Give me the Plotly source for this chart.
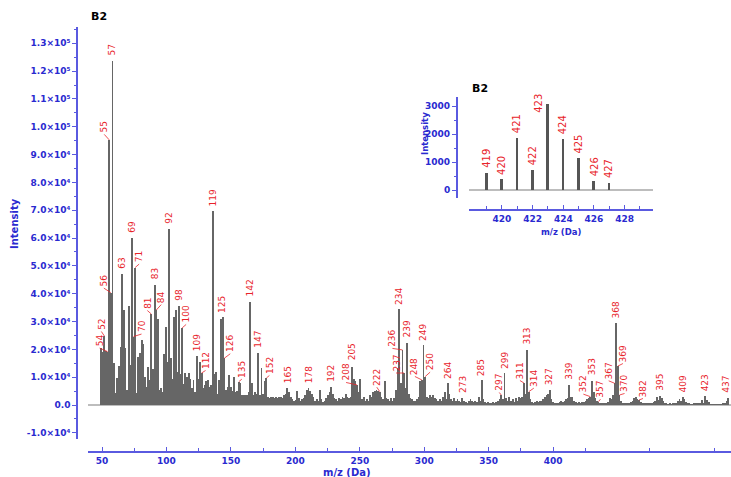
import plotly.graph_objects as go

W, H = 731, 477

# ---------------- data (m/z 50..437, one value per unit) ----------------
int_050_099 = [20500, 19000, 24800, 19500, 19200, 95300, 40400, 123800, 15000, 4200,
               9600, 13900, 20700, 47100, 34100, 20500, 5400, 35600, 14300, 60100,
               24600, 49400, 4200, 17400, 18600, 23300, 22000, 10000, 6600, 13500,
               9000, 32700, 13000, 43100, 34100, 31000, 5500, 6200, 4500, 18500,
               28000, 15500, 63200, 17000, 9500, 31500, 34000, 12000, 35600, 11000]
int_100_149 = [27700, 7500, 11400, 10000, 11500, 9500, 6000, 9000, 4500, 17600,
               9500, 15500, 11500, 6000, 7200, 8500, 9000, 6500, 7200, 69700,
               11000, 12000, 4000, 9000, 31000, 31700, 16800, 5500, 6500, 10800,
               6600, 5000, 9900, 4500, 5000, 8400, 8000, 3500, 3500, 3500,
               3500, 4500, 37100, 8000, 3500, 4500, 4000, 18700, 3500, 13200]
int_150_199 = [4000, 8500, 9700, 3000, 2500, 3000, 2800, 2500, 3000, 2500,
               3000, 2800, 2500, 3500, 4000, 6000, 4500, 3000, 2000, 1500,
               1800, 5000, 2500, 1500, 2000, 2500, 3500, 5500, 6000, 5000,
               4000, 3000, 1500, 2000, 1500, 5500, 2000, 1000, 1500, 2500,
               3500, 4500, 6400, 4000, 2500, 2000, 1500, 2500, 2000, 3000]
int_200_249 = [2500, 4000, 3000, 2500, 3000, 13800, 9500, 8500, 7200, 4500,
               9200, 2000, 3000, 1500, 2000, 1500, 3500, 3000, 4500, 5000,
               5500, 5000, 4800, 3000, 2000, 8800, 2500, 2000, 1500, 2500,
               1500, 2500, 5400, 13200, 34400, 8000, 19800, 11500, 6000, 22400,
               4000, 2500, 2000, 1500, 1500, 2000, 3000, 8500, 9000, 21600]
int_250_299 = [10200, 3000, 2500, 3500, 3000, 3500, 2500, 2000, 1500, 2000,
               1500, 3000, 4800, 2000, 8000, 4000, 2000, 1500, 2500, 1500,
               2000, 1500, 1000, 2500, 1500, 1000, 800, 1500, 2000, 1500,
               1000, 1500, 1000, 3000, 1500, 9000, 2000, 1000, 800, 1000,
               800, 600, 1000, 800, 1000, 1500, 2000, 3600, 2000, 11500]
int_300_349 = [2500, 1500, 3000, 1500, 2000, 1000, 2500, 1500, 3000, 2500,
               3000, 7900, 4000, 19800, 4800, 2000, 1000, 800, 1000, 1500,
               1000, 1500, 1500, 2000, 3000, 3500, 4000, 5400, 2000, 1000,
               800, 600, 800, 1000, 1500, 1000, 1500, 2000, 2500, 7200,
               3000, 3000, 1500, 1000, 800, 1000, 800, 1000, 1200, 1500]
int_350_399 = [2000, 2500, 3000, 8700, 4500, 2500, 1500, 1200, 800, 600,
               800, 600, 800, 1000, 2500, 2000, 3500, 7800, 29600, 14000,
               3600, 1500, 800, 600, 500, 600, 800, 1000, 1500, 2400,
               3000, 2000, 1800, 1000, 600, 400, 400, 500, 400, 500,
               600, 1000, 1500, 2800, 1800, 3200, 2500, 1500, 600, 400]
int_400_437 = [300, 400, 300, 400, 600, 800, 1500, 2000, 1500, 2800,
               2000, 1200, 600, 400, 300, 300, 400, 500, 800, 620,
               380, 1850, 710, 3070, 1810, 1130, 330, 240, 200, 150,
               200, 300, 200, 300, 600, 800, 1500, 2500]

intensity = (int_050_099 + int_100_149 + int_150_199 + int_200_249 +
             int_250_299 + int_300_349 + int_350_399 + int_400_437)
mz = list(range(50, 50 + len(intensity)))

labelled_mz = [54, 52, 55, 56, 57, 63, 69, 70, 71, 81, 83, 84, 92, 98, 100, 109, 112,
               119, 125, 126, 135, 142, 147, 152, 165, 178, 192, 205, 208, 222, 234,
               236, 237, 239, 248, 249, 250, 264, 273, 285, 297, 299, 311, 313, 314,
               327, 339, 352, 353, 357, 367, 368, 369, 370, 382, 395, 409, 423, 437]

inset_mz = [419, 420, 421, 422, 423, 424, 425, 426, 427]
inset_int = [620, 380, 1850, 710, 3070, 1810, 1130, 330, 240]

x_ticks_main = [50, 100, 150, 200, 250, 300, 350, 400]
y_ticks_main = [-10000, 0, 10000, 20000, 30000, 40000, 50000, 60000, 70000,
                80000, 90000, 100000, 110000, 120000, 130000]
x_ticks_inset = [420, 422, 424, 426, 428]
y_ticks_inset = [0, 1000, 2000, 3000]

# ---------------- styling / placement ----------------
BLUE_TXT = '#2a2ad0'
BLUE_LINE = '#5a5ae0'
RED = '#e8232a'
BAR = '#666666'
FONT = 'DejaVu Sans'

# label placement: (dx px, dy px above peak, leader line)
LABEL_POS = {
    54: (-8, 4, True), 52: (-3, 5, True), 55: (-5, 6, True), 56: (-7, 5, True),
    70: (8, 3, True), 71: (4, 4, True), 81: (-4, 4, True), 83: (0, 5, False),
    84: (5, 6, True), 100: (4, 4, True), 112: (4, 3, True), 125: (0, 3, False),
    126: (6, 5, True), 135: (3, 3, True), 152: (3, 3, True), 205: (0, 5, False),
    208: (-11, 3, True), 222: (-3, 5, True), 234: (0, 3, False), 236: (-10, 2, True),
    237: (-8, 0, True), 248: (-7, 4, True), 249: (0, 3, False), 250: (5, 5, True),
    264: (0, 3, False), 285: (0, 3, False), 297: (-2, 3, True), 299: (0, 3, False),
    311: (-4, 3, True), 314: (5, 4, True), 352: (-7, 3, True), 357: (2, 3, True),
    367: (-6, 3, True), 368: (0, 3, False), 369: (5, 3, True), 370: (5, 2, True),
    382: (4, 2, True), 437: (-3, 4, False),
}
INSET_LABEL_POS = {423: (-9, -9)}

SUP = str.maketrans('0123456789-', '⁰¹²³⁴⁵⁶⁷⁸⁹⁻')


def sci(v):
    if v == 0:
        return '0.0'
    s = '-' if v < 0 else ''
    a = abs(v)
    e = len(str(int(a))) - 1
    return f"{s}{a / 10 ** e:.1f}×10" + str(e).translate(SUP)


fig = go.Figure()
fig.add_trace(go.Bar(x=mz, y=intensity, width=0.55, xaxis='x', yaxis='y',
                     marker=dict(color=BAR, line=dict(width=0)),
                     showlegend=False, hoverinfo='skip'))
fig.add_trace(go.Scatter(x=[], y=[], xaxis='x2', yaxis='y', showlegend=False))
fig.add_trace(go.Bar(x=inset_mz, y=inset_int, width=0.13, xaxis='x3', yaxis='y3',
                     marker=dict(color='#555555', line=dict(width=0)),
                     showlegend=False, hoverinfo='skip'))

tickfont = dict(family=FONT, size=9, color=BLUE_TXT, weight='bold')
x_dom = [88 / W, 1.0]

fig.update_layout(
    width=W, height=H, margin=dict(l=0, r=0, t=0, b=0),
    paper_bgcolor='white', plot_bgcolor='rgba(0,0,0,0)',
    barmode='overlay', bargap=0,
    xaxis=dict(domain=x_dom, range=[41.9, 438.8], visible=False, anchor='y',
               fixedrange=True),
    xaxis2=dict(domain=x_dom, overlaying='x', anchor='free', position=1 - 452 / H,
                range=[39.1, 538], tickmode='array', tickvals=x_ticks_main,
                ticks='inside', ticklen=4, tickcolor=BLUE_LINE, tickwidth=1,
                minor=dict(tick0=25, dtick=50, ticks='inside', ticklen=3,
                           tickcolor=BLUE_LINE),
                showline=True, linecolor=BLUE_LINE, linewidth=1.5,
                showgrid=False, zeroline=False, tickfont=tickfont),
    yaxis=dict(domain=[1 - 439 / H, 1 - 27 / H], range=[-12220, 135870],
               anchor='free', position=77 / W, tickmode='array',
               tickvals=y_ticks_main, ticktext=[sci(v) for v in y_ticks_main],
               ticks='outside', ticklen=4, tickcolor=BLUE_LINE,
               minor=dict(tick0=5000, dtick=10000, ticks='outside', ticklen=2,
                          tickcolor=BLUE_LINE),
               showline=True, linecolor=BLUE_LINE, linewidth=1.5, showgrid=False,
               zeroline=True, zerolinecolor='#bdbdbd', zerolinewidth=2,
               tickfont=tickfont),
    xaxis3=dict(domain=[469 / W, 653 / W], range=[417.85, 429.85], anchor='free',
                position=1 - 210 / H, tickmode='array', tickvals=x_ticks_inset,
                ticks='inside', ticklen=4, tickcolor=BLUE_LINE,
                minor=dict(tick0=419, dtick=2, ticks='inside', ticklen=3,
                           tickcolor=BLUE_LINE),
                showline=True, linecolor=BLUE_LINE, linewidth=1.5,
                showgrid=False, zeroline=False, tickfont=tickfont),
    yaxis3=dict(domain=[1 - 198 / H, 1 - 97 / H], range=[-286, 3332],
                anchor='free', position=456.7 / W, tickmode='array',
                tickvals=y_ticks_inset, ticks='outside', ticklen=4,
                tickcolor=BLUE_LINE,
                minor=dict(tick0=500, dtick=1000, ticks='outside', ticklen=2,
                           tickcolor=BLUE_LINE),
                showline=True, linecolor=BLUE_LINE, linewidth=1.5, showgrid=False,
                zeroline=True, zerolinecolor='#bdbdbd', zerolinewidth=2,
                tickfont=tickfont),
)

ann = []
shapes = []
lab_font = dict(family=FONT, size=9, color=RED)
val = dict(zip(mz, intensity))
for m in labelled_mz:
    dx, dy, lead = LABEL_POS.get(m, (0, 4, False))
    ann.append(dict(x=m, y=val[m], xref='x', yref='y', text=str(m), textangle=-90,
                    font=lab_font, xanchor='center', yanchor='bottom', borderpad=0,
                    showarrow=False, xshift=dx, yshift=dy))
    if lead:
        shapes.append(dict(type='line', xref='x', yref='y',
                           xsizemode='pixel', ysizemode='pixel',
                           xanchor=m, yanchor=val[m], x0=0, y0=0,
                           x1=dx, y1=max(dy - 0.5, 0),
                           line=dict(color=RED, width=0.8)))

for m, v in zip(inset_mz, inset_int):
    dx, dy = INSET_LABEL_POS.get(m, (0, 4))
    ann.append(dict(x=m, y=v, xref='x3', yref='y3', text=str(m), textangle=-90,
                    font=dict(family=FONT, size=10, color=RED), showarrow=False,
                    xanchor='center', yanchor='bottom', xshift=dx, yshift=dy,
                    borderpad=0))

title_font = dict(family=FONT, size=11, color='black', weight='bold')
axis_title_font = dict(family=FONT, size=10, color=BLUE_TXT, weight='bold')
inset_title_font = dict(family=FONT, size=8.5, color=BLUE_TXT, weight='bold')


def paper_text(txt, px, py, font, angle=0):
    return dict(text=txt, x=px / W, y=1 - py / H, xref='paper', yref='paper',
                showarrow=False, font=font, textangle=angle,
                xanchor='center', yanchor='middle')


ann += [
    paper_text('B2', 99, 16, title_font),
    paper_text('Intensity', 15, 224, axis_title_font, -90),
    paper_text('m/z (Da)', 347, 472, axis_title_font),
    paper_text('B2', 479.5, 88, title_font),
    paper_text('Intensity', 425, 134, inset_title_font, -90),
    paper_text('m/z (Da)', 561, 232, inset_title_font),
]
fig.update_layout(annotations=ann, shapes=shapes)

fig.write_html('out.html', config={'displayModeBar': False}, post_script=(
    "document.body.style.margin='0';document.body.style.overflow='hidden';"))
